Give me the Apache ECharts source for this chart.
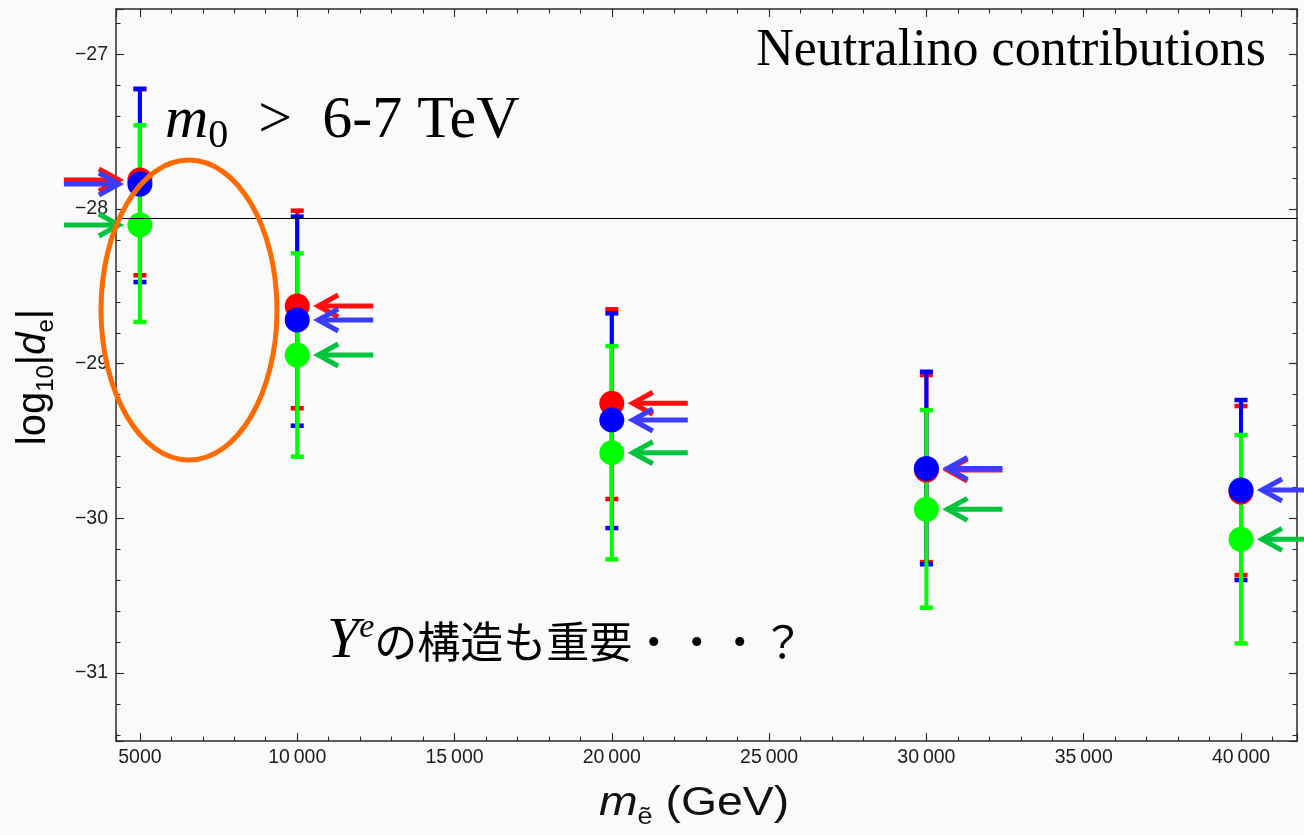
<!DOCTYPE html>
<html>
<head>
<meta charset="utf-8">
<script src="https://cdn.jsdelivr.net/npm/echarts@6/dist/echarts.min.js"></script>
<style>
  html, body { margin: 0; padding: 0; background: #fafafa; }
  #chart { width: 1304px; height: 835px; }
</style>
</head>
<body>
<div id="chart"></div>
<script>
// Selectron masses (GeV)
const masses = [5000, 10000, 20000, 30000, 40000];

// log10|d_e| : central values and error-bar ends for the three scans
const redCenter   = [-27.812, -28.627, -29.256, -29.688, -29.830];
const redHigh     = [-27.225, -28.010, -28.648, -29.073, -29.274];
const redLow      = [-28.428, -29.288, -29.875, -30.283, -30.367];

const blueCenter  = [-27.838, -28.717, -29.364, -29.677, -29.817];
const blueHigh    = [-27.222, -28.049, -28.674, -29.052, -29.235];
const blueLow     = [-28.472, -29.401, -30.063, -30.297, -30.399];

const greenCenter = [-28.103, -28.944, -29.576, -29.942, -30.136];
const greenHigh   = [-27.458, -28.286, -28.886, -29.300, -29.461];
const greenLow    = [-28.730, -29.601, -30.265, -30.578, -30.809];

// experimental upper bound on |d_e|
const bound = -28.064;

// tick labels
const xTicks = [5000, 10000, 15000, 20000, 25000, 30000, 35000, 40000];
const yTicks = [-27, -28, -29, -30, -31];

// which side of each point its pointer arrow sits on (-1 left, +1 right)
const arrowSide = [-1, 1, 1, 1, 1];
const redArrowIdx = [0, 1, 2, 3];
const blueArrowIdx = [0, 1, 2, 3, 4];
const greenArrowIdx = [0, 1, 2, 3, 4];

const xMin = 4240, xMax = 41780;
const yMin = -31.44, yMax = -26.706;

const RED = '#ff0000', BLUE = '#0000ff', GREEN = '#00ff00';
const FRAME = '#2a2a2a';

function xAxisDef(position, step, tickLen, withLabels, withLine) {
  return {
    type: 'value', position: position, min: xMin, max: xMax,
    minInterval: step, maxInterval: step,
    splitNumber: Math.round((xMax - xMin) / step),
    axisLine: { show: withLine, onZero: false, lineStyle: { color: FRAME, width: 1.5 } },
    axisTick: { show: true, inside: true, length: tickLen, lineStyle: { color: FRAME, width: 1.1 } },
    axisLabel: {
      show: withLabels, margin: 7, color: '#1e1e1e',
      fontFamily: 'Liberation Sans', fontSize: 19.5,
      formatter: function (v) {
        const r = Math.round(v);
        if (Math.abs(v - r) > 1e-6 || xTicks.indexOf(r) < 0) return '';
        const s = String(r);
        return r >= 10000 ? s.slice(0, -3) + '\u2009' + s.slice(-3) : s;
      }
    },
    splitLine: { show: false }
  };
}

function yAxisDef(position, step, tickLen, withLabels, withLine) {
  return {
    type: 'value', position: position, min: yMin, max: yMax,
    minInterval: step, maxInterval: step,
    splitNumber: Math.round((yMax - yMin) / step),
    axisLine: { show: withLine, onZero: false, lineStyle: { color: FRAME, width: 1.5 } },
    axisTick: { show: true, inside: true, length: tickLen, lineStyle: { color: FRAME, width: 1.1 } },
    axisLabel: {
      show: withLabels, margin: 8, color: '#1e1e1e',
      fontFamily: 'Liberation Sans', fontSize: 19.5,
      formatter: function (v) {
        const r = Math.round(v);
        if (Math.abs(v - r) > 1e-6 || yTicks.indexOf(r) < 0) return '';
        return '\u2212' + Math.abs(r);
      }
    },
    splitLine: { show: false }
  };
}

// vertical error bar with flat caps
function errorBarSeries(name, color, low, high) {
  return {
    name: name, type: 'custom', z: 2,
    data: masses.map((m, i) => [m, low[i], high[i]]),
    renderItem: function (params, api) {
      const x = api.value(0);
      const lo = api.coord([x, api.value(1)]);
      const hi = api.coord([x, api.value(2)]);
      const cw = 6.5;
      const st = { stroke: color, lineWidth: 4 };
      return {
        type: 'group',
        children: [
          { type: 'line', shape: { x1: hi[0], y1: hi[1], x2: lo[0], y2: lo[1] }, style: st },
          { type: 'line', shape: { x1: hi[0] - cw, y1: hi[1], x2: hi[0] + cw, y2: hi[1] }, style: { stroke: color, lineWidth: 4.5 } },
          { type: 'line', shape: { x1: lo[0] - cw, y1: lo[1], x2: lo[0] + cw, y2: lo[1] }, style: { stroke: color, lineWidth: 4.5 } }
        ]
      };
    }
  };
}

function pointSeries(name, color, center) {
  return {
    name: name, type: 'scatter', z: 2, symbol: 'circle', symbolSize: 25,
    itemStyle: { color: color, opacity: 1 },
    data: masses.map((m, i) => [m, center[i]])
  };
}

// pointer arrows beside the central values
function arrowSeries(color, center, idx) {
  return {
    type: 'custom', z: 3,
    data: idx.map(i => [masses[i], center[i], arrowSide[i]]),
    renderItem: function (params, api) {
      const p = api.coord([api.value(0), api.value(1)]);
      const s = api.value(2);
      const tip = p[0] + s * 21, tail = p[0] + s * 76, arm = tip + s * 20;
      const y = p[1];
      return {
        type: 'group',
        children: [
          { type: 'line', shape: { x1: tail, y1: y, x2: tip + s * 2, y2: y },
            style: { stroke: color, lineWidth: 5 } },
          { type: 'polyline', shape: { points: [[arm, y - 11], [tip, y], [arm, y + 11]] },
            style: { stroke: color, lineWidth: 5, fill: null, lineJoin: 'miter' } }
        ]
      };
    }
  };
}

const chart = echarts.init(document.getElementById('chart'), null, { renderer: 'canvas' });

chart.setOption({
  backgroundColor: '#fafafa',
  animation: false,
  grid: { left: 116, right: 7, top: 9, bottom: 94, containLabel: false },
  xAxis: [
    xAxisDef('bottom', 5000, 8, true, true),
    xAxisDef('bottom', 1000, 4.5, false, false),
    xAxisDef('top', 5000, 8, false, true),
    xAxisDef('top', 1000, 4.5, false, false)
  ],
  yAxis: [
    yAxisDef('left', 1, 8, true, true),
    yAxisDef('left', 0.2, 4.5, false, false),
    yAxisDef('right', 1, 8, false, true),
    yAxisDef('right', 0.2, 4.5, false, false)
  ],
  series: [
    {
      name: 'bound', type: 'line', z: 1, data: [], symbol: 'none',
      markLine: {
        silent: true, symbol: 'none', label: { show: false },
        lineStyle: { color: '#000', width: 1.2, type: 'solid' },
        data: [{ yAxis: bound }]
      }
    },
    errorBarSeries('red', RED, redLow, redHigh),
    pointSeries('red', RED, redCenter),
    errorBarSeries('blue', BLUE, blueLow, blueHigh),
    pointSeries('blue', BLUE, blueCenter),
    errorBarSeries('green', GREEN, greenLow, greenHigh),
    pointSeries('green', GREEN, greenCenter),
    arrowSeries('#ff1010', redCenter, redArrowIdx),
    arrowSeries('#3c3cff', blueCenter, blueArrowIdx),
    arrowSeries('#00c43c', greenCenter, greenArrowIdx)
  ]
});

// highlight ellipse around the low-mass region, in data units
const ring = { x: 6560, y: -28.653, rx: 2797, ry: 0.970 };
const c = chart.convertToPixel({ xAxisIndex: 0, yAxisIndex: 0 }, [ring.x, ring.y]);
const e = chart.convertToPixel({ xAxisIndex: 0, yAxisIndex: 0 }, [ring.x + ring.rx, ring.y - ring.ry]);

chart.setOption({
  graphic: [
    {
      type: 'ellipse', z: 100,
      shape: { cx: c[0], cy: c[1], rx: e[0] - c[0], ry: e[1] - c[1] },
      style: { fill: null, stroke: '#ff6a00', lineWidth: 5 }
    },
    {
      type: 'text', z: 100, x: 1266, y: 51,
      style: {
        text: 'Neutralino contributions', fill: '#000',
        font: '52px "Liberation Serif"', align: 'right', verticalAlign: 'middle'
      }
    },
    {
      type: 'text', z: 100, x: 165, y: 121,
      style: {
        text: '{m|m}{s|0}{t|  >  6-7 TeV}', align: 'left', verticalAlign: 'middle',
        rich: {
          m: { fontFamily: 'Liberation Serif', fontStyle: 'italic', fontSize: 60, lineHeight: 70, verticalAlign: 'middle', fill: '#000' },
          s: { fontFamily: 'Liberation Serif', fontSize: 40, lineHeight: 40, verticalAlign: 'bottom', fill: '#000' },
          t: { fontFamily: 'Liberation Serif', fontSize: 60, lineHeight: 70, verticalAlign: 'middle', fill: '#000' }
        }
      }
    },
    {
      type: 'text', z: 100, x: 327, y: 642,
      style: {
        text: '{y|Y}{e|e}{j|の構造も重要・・・？}', align: 'left', verticalAlign: 'middle',
        rich: {
          y: { fontFamily: 'Liberation Serif', fontStyle: 'italic', fontSize: 58, lineHeight: 62, verticalAlign: 'middle', fill: '#000' },
          e: { fontFamily: 'Liberation Serif', fontStyle: 'italic', fontSize: 34, lineHeight: 36, verticalAlign: 'top', fill: '#000' },
          j: { fontFamily: 'Noto Sans CJK JP', fontSize: 43, lineHeight: 62, verticalAlign: 'middle', fill: '#000' }
        }
      }
    },
    {
      type: 'text', z: 100, x: 694, y: 804, scaleX: 1.13,
      style: {
        text: '{m|m}{s|ẽ}{n| (GeV)}', align: 'center', verticalAlign: 'middle',
        rich: {
          m: { fontFamily: 'Liberation Sans', fontStyle: 'italic', fontSize: 41, lineHeight: 50, verticalAlign: 'middle', fill: '#111' },
          s: { fontFamily: 'Liberation Sans', fontSize: 24, lineHeight: 22, verticalAlign: 'bottom', fill: '#111' },
          n: { fontFamily: 'Liberation Sans', fontSize: 41, lineHeight: 50, verticalAlign: 'middle', fill: '#111' }
        }
      }
    },
    {
      type: 'text', z: 100, x: 34, y: 377, rotation: Math.PI / 2,
      style: {
        text: '{n|log}{s|10}{n||}{i|d}{s|e}{n||}', align: 'center', verticalAlign: 'middle',
        rich: {
          n: { fontFamily: 'Liberation Sans', fontSize: 40, lineHeight: 48, verticalAlign: 'middle', fill: '#000' },
          i: { fontFamily: 'Liberation Sans', fontStyle: 'italic', fontSize: 40, lineHeight: 48, verticalAlign: 'middle', fill: '#000' },
          s: { fontFamily: 'Liberation Sans', fontSize: 24, lineHeight: 28, verticalAlign: 'bottom', fill: '#000' }
        }
      }
    }
  ]
});
</script>
</body>
</html>
